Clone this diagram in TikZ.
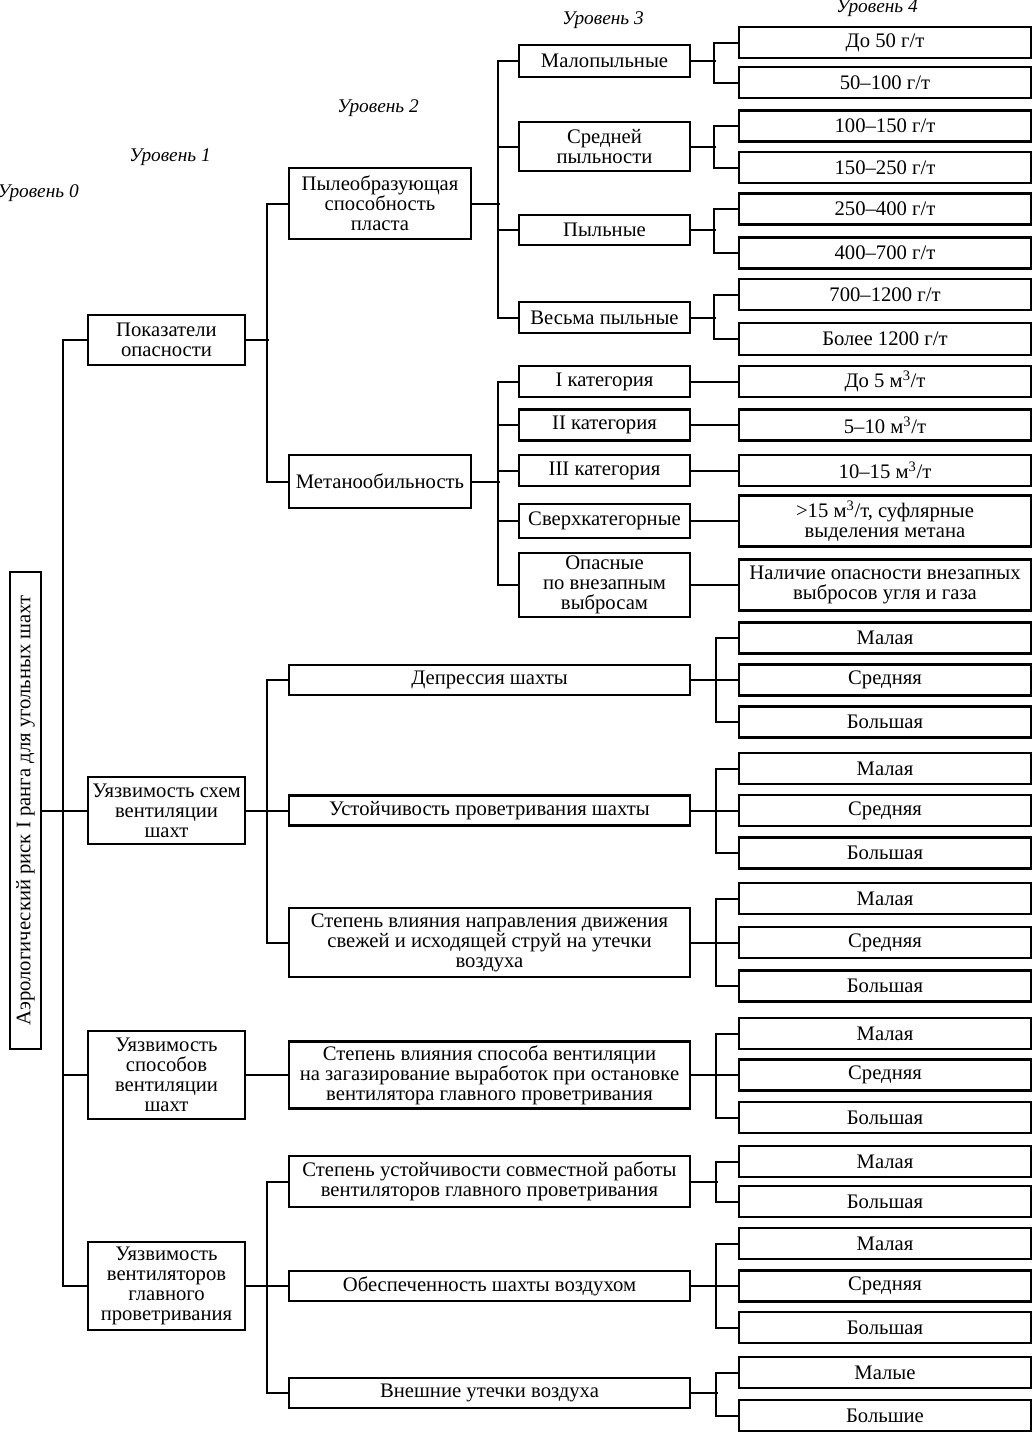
\documentclass[tikz,border=0pt]{standalone}
\usepackage{fontspec}
\setmainfont{Liberation Serif}

\begin{document}
\begin{tikzpicture}[
    x=0.75pt, y=-0.75pt,
    box/.style={rectangle, draw, line width=1.8pt, inner sep=0pt, align=center, font=\fontsize{15.5}{15}\selectfont},
    lvl/.style={font=\fontsize{14.5}{15}\selectfont\itshape},
    one/.style={box, minimum width=117.75pt},
    two/.style={box, minimum width=136.5pt},
    wide/.style={box, minimum width=300.75pt},
    three/.style={box, minimum width=128.25pt},
    four/.style={box, minimum width=219pt, minimum height=23.25pt},
    link/.style={line width=1.5pt}
]
\useasboundingbox (0,0) rectangle (1033,1432);

% level captions
\node[lvl] (lv0) at (38,193) {Уровень 0};
\node[lvl] (lv1) at (170,157) {Уровень 1};
\node[lvl] (lv2) at (378,108) {Уровень 2};
\node[lvl] (lv3) at (603,20) {Уровень 3};
\node[lvl] (lv4) at (877,8) {Уровень 4};

% level 0
\node[box, rotate=90, minimum width=357.75pt, minimum height=23.25pt] (root) at (25.5,810.5) {Аэрологический риск I ранга для угольных шахт};

% level 1
\node[one, minimum height=37.5pt] (hazard) at (166.5,340) {Показатели\\опасности};
\node[one, minimum height=50.25pt] (vent) at (166.5,810.5) {Уязвимость схем\\вентиляции\\шахт};
\node[one, minimum height=66pt] (method) at (166.5,1075) {Уязвимость\\способов\\вентиляции\\шахт};
\node[one, minimum height=66pt] (fan) at (166.5,1286) {Уязвимость\\вентиляторов\\главного\\проветривания};

% level 2
\node[two, minimum height=53.25pt] (dust) at (380,203.5) {Пылеобразующая\\способность\\пласта};
\node[two, minimum height=39.75pt] (methane) at (380,481.5) {Метанообильность};
\node[wide, minimum height=22.5pt] (depr) at (489.5,680) {Депрессия шахты};
\node[wide, minimum height=22.5pt] (stab) at (489.5,810.5) {Устойчивость проветривания шахты};
\node[wide, minimum height=51.75pt] (dir) at (489.5,942.5) {Степень влияния направления движения\\свежей и исходящей струй на утечки\\воздуха};
\node[wide, minimum height=50.25pt] (meth) at (489.5,1075) {Степень влияния способа вентиляции\\на загазирование выработок при остановке\\вентилятора главного проветривания};
\node[wide, minimum height=38.25pt] (joint) at (489.5,1181.5) {Степень устойчивости совместной работы\\вентиляторов главного проветривания};
\node[wide, minimum height=22.5pt] (supply) at (489.5,1286) {Обеспеченность шахты воздухом};
\node[wide, minimum height=22.5pt] (leak) at (489.5,1393) {Внешние утечки воздуха};

% level 3
\node[three, minimum height=24pt] (malo) at (604.5,61) {Малопыльные};
\node[three, minimum height=36.75pt] (srp) at (604.5,146.5) {Средней\\пыльности};
\node[three, minimum height=22.5pt] (pyl) at (604.5,230) {Пыльные};
\node[three, minimum height=23.25pt] (vesma) at (604.5,317.5) {Весьма пыльные};
\node[three, minimum height=23.25pt] (cat1) at (604.5,381.5) {I категория};
\node[three, minimum height=23.25pt] (cat2) at (604.5,425) {II категория};
\node[three, minimum height=23.25pt] (cat3) at (604.5,470.5) {III категория};
\node[three, minimum height=25.5pt] (super) at (604.5,521) {Сверхкатегорные};
\node[three, minimum height=48pt] (outb) at (604.5,585) {Опасные\\по внезапным\\выбросам};

% level 4
\node[four] (g50) at (885,42.5) {До 50 г/т};
\node[four] (g100) at (885,82.5) {50--100 г/т};
\node[four] (g150) at (885,126) {100--150 г/т};
\node[four] (g250) at (885,167.5) {150--250 г/т};
\node[four] (g400) at (885,209) {250--400 г/т};
\node[four] (g700) at (885,253) {400--700 г/т};
\node[four] (g1200) at (885,294.5) {700--1200 г/т};
\node[four, minimum height=24pt] (gmore) at (885,339) {Более 1200 г/т};
\node[four] (m5) at (885,381.5) {До 5 м\textsuperscript{3}/т};
\node[four] (m10) at (885,425) {5--10 м\textsuperscript{3}/т};
\node[four] (m15) at (885,470.5) {10--15 м\textsuperscript{3}/т};
\node[four, minimum height=38.25pt] (mover) at (885,521) {>15 м\textsuperscript{3}/т, суфлярные\\выделения метана};
\node[four, minimum height=38.25pt] (mout) at (885,585) {Наличие опасности внезапных\\выбросов угля и газа};
\node[four] (dep1) at (885,638) {Малая};
\node[four] (dep2) at (885,680) {Средняя};
\node[four] (dep3) at (885,722) {Большая};
\node[four] (st1) at (885,768.5) {Малая};
\node[four] (st2) at (885,810.5) {Средняя};
\node[four] (st3) at (885,853) {Большая};
\node[four] (dr1) at (885,898.5) {Малая};
\node[four] (dr2) at (885,942.5) {Средняя};
\node[four] (dr3) at (885,986) {Большая};
\node[four] (mt1) at (885,1033.5) {Малая};
\node[four] (mt2) at (885,1075) {Средняя};
\node[four] (mt3) at (885,1117.5) {Большая};
\node[four] (jn1) at (885,1161.5) {Малая};
\node[four] (jn2) at (885,1201.5) {Большая};
\node[four] (sp1) at (885,1243.5) {Малая};
\node[four] (sp2) at (885,1286) {Средняя};
\node[four] (sp3) at (885,1327.5) {Большая};
\node[four] (lk1) at (885,1372.5) {Малые};
\node[four] (lk2) at (885,1415.5) {Большие};

% level 0 -> 1
\draw[link] (root) -- (vent);
\draw[link] (hazard.west) -- ++(-24,0) |- (fan.west);
\draw[link] (method.west) -- ++(-24,0);

% level 1 -> 2
\draw[link] (hazard.east) -- ++(23,0);
\draw[link] (dust.west) -- ++(-21,0) |- (methane.west);
\draw[link] (vent) -- (stab);
\draw[link] (depr.west) -- ++(-21,0) |- (dir.west);
\draw[link] (method) -- (meth);
\draw[link] (fan.east) -- ++(23,0);
\draw[link] (joint.west) -- ++(-21,0) |- (leak.west);
\draw[link] (supply.west) -- ++(-21,0);

% level 2 -> 3
\draw[link] (dust.east) -- ++(28,0);
\draw[link] (malo.west) -- ++(-20,0) |- (vesma.west);
\draw[link] (srp.west) -- ++(-20,0);
\draw[link] (pyl.west) -- ++(-20,0);
\draw[link] (methane.east) -- ++(28,0);
\draw[link] (cat1.west) -- ++(-20,0) |- (outb.west);
\draw[link] (cat2.west) -- ++(-20,0);
\draw[link] (cat3.west) -- ++(-20,0);
\draw[link] (super.west) -- ++(-20,0);

% level 3 -> 4
\draw[link] (malo.east) -- ++(25,0);
\draw[link] (g50.west) -- ++(-24,0) |- (g100.west);
\draw[link] (srp.east) -- ++(25,0);
\draw[link] (g150.west) -- ++(-24,0) |- (g250.west);
\draw[link] (pyl.east) -- ++(25,0);
\draw[link] (g400.west) -- ++(-24,0) |- (g700.west);
\draw[link] (vesma.east) -- ++(25,0);
\draw[link] (g1200.west) -- ++(-24,0) |- (gmore.west);
\draw[link] (cat1) -- (m5);
\draw[link] (cat2) -- (m10);
\draw[link] (cat3) -- (m15);
\draw[link] (super) -- (mover);
\draw[link] (outb) -- (mout);

% level 2 -> 4
\draw[link] (depr) -- (dep2);
\draw[link] (dep1.west) -- ++(-22,0) |- (dep3.west);
\draw[link] (stab) -- (st2);
\draw[link] (st1.west) -- ++(-22,0) |- (st3.west);
\draw[link] (dir) -- (dr2);
\draw[link] (dr1.west) -- ++(-22,0) |- (dr3.west);
\draw[link] (meth) -- (mt2);
\draw[link] (mt1.west) -- ++(-22,0) |- (mt3.west);
\draw[link] (joint.east) -- ++(27,0);
\draw[link] (jn1.west) -- ++(-22,0) |- (jn2.west);
\draw[link] (supply) -- (sp2);
\draw[link] (sp1.west) -- ++(-22,0) |- (sp3.west);
\draw[link] (leak.east) -- ++(27,0);
\draw[link] (lk1.west) -- ++(-22,0) |- (lk2.west);
\end{tikzpicture}
\end{document}
